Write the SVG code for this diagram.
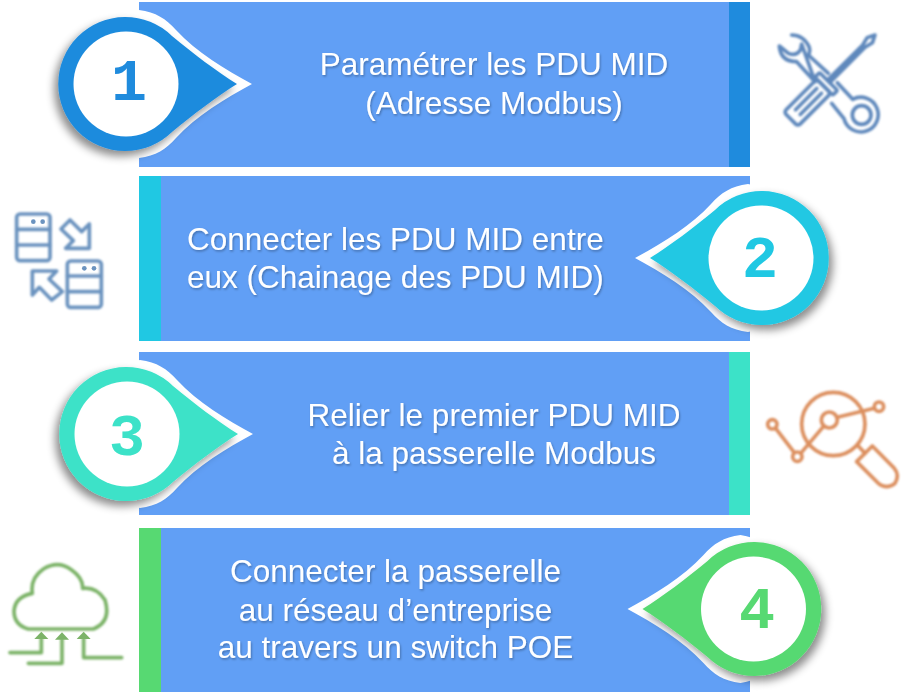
<svg xmlns="http://www.w3.org/2000/svg" width="904" height="692" viewBox="0 0 904 692">
<style>
.panel{fill:#619FF5}
.t{font-family:"Liberation Sans",Arial,sans-serif;font-size:31.5px;fill:#fff;filter:url(#ts)}
.m{text-anchor:middle}
.n{font-family:"Liberation Mono","DejaVu Sans Mono",monospace;font-weight:700;font-size:60px;text-anchor:middle}
.halo{fill:#fff}
.ic{fill:none;stroke-width:11;stroke-linejoin:round;stroke-linecap:round;filter:url(#soft)}
</style>
<defs>
<filter id="ts" x="-5%" y="-20%" width="110%" height="150%"><feDropShadow dx="1" dy="1.5" stdDeviation="1" flood-color="#000" flood-opacity=".3"/></filter>
<filter id="sh" x="-25%" y="-25%" width="150%" height="150%"><feDropShadow dx="-4" dy="5" stdDeviation="4.5" flood-color="#000" flood-opacity=".45"/></filter>
<filter id="soft" x="-5%" y="-5%" width="110%" height="110%"><feGaussianBlur stdDeviation="2.4"/></filter>
<path id="haloShape" d="M13,-74C30,-72 40,-65 50,-54C70,-32 100,-14 126,0C100,14 70,32 50,54C40,65 30,72 13,74A75,75 0 0 1 13,-74Z"/>
<path id="pinShape" d="M46,-48C68,-30 90,-13 111,0C90,13 68,30 46,48A67,67 0 1 1 46,-48Z"/>
</defs>
<rect width="904" height="692" fill="#fff"/>

<g id="step1">
<rect class="panel" x="139" y="2" width="611" height="165"/>
<rect x="729" y="2" width="21" height="165" fill="#1F8BDD"/>
<g transform="translate(126,84)">
<use href="#haloShape" class="halo"/>
<use href="#pinShape" fill="#1F8BDD" filter="url(#sh)"/>
<circle r="52.5" fill="#fff"/>
</g>
<text class="n" x="129" y="100" fill="#1F8BDD">1</text>
<text class="t m" x="494" y="75">Paramétrer les PDU MID</text>
<text class="t m" x="494" y="114">(Adresse Modbus)</text>
</g>

<g id="step2">
<rect class="panel" x="139" y="176" width="611" height="165"/>
<rect x="139" y="176" width="22" height="165" fill="#20C8E3"/>
<g transform="translate(761,258) scale(-1,1)">
<use href="#haloShape" class="halo"/>
<use href="#pinShape" fill="#20C8E3" filter="url(#sh)"/>
<circle r="52.5" fill="#fff"/>
</g>
<text class="n" x="760" y="277" fill="#20C8E3">2</text>
<text class="t" x="187" y="250">Connecter les PDU MID entre</text>
<text class="t" x="187" y="288">eux (Chainage des PDU MID)</text>
</g>

<g id="step3">
<rect class="panel" x="139" y="352" width="611" height="163"/>
<rect x="729" y="352" width="21" height="163" fill="#3CE2C8"/>
<g transform="translate(127,434)">
<use href="#haloShape" class="halo"/>
<use href="#pinShape" fill="#3CE2C8" filter="url(#sh)"/>
<circle r="52.5" fill="#fff"/>
</g>
<text class="n" x="127" y="455" fill="#3CE2C8">3</text>
<text class="t m" x="494" y="426">Relier le premier PDU MID</text>
<text class="t m" x="494" y="464">à la passerelle Modbus</text>
</g>

<g id="step4">
<rect class="panel" x="139" y="528" width="611" height="164"/>
<rect x="139" y="528" width="22" height="164" fill="#57D972"/>
<g transform="translate(753.5,609) scale(-1,1)">
<use href="#haloShape" class="halo"/>
<use href="#pinShape" fill="#57D972" filter="url(#sh)"/>
<circle r="52.5" fill="#fff"/>
</g>
<text class="n" x="757" y="628" fill="#57D972">4</text>
<text class="t m" x="395.5" y="582">Connecter la passerelle</text>
<text class="t m" x="395.5" y="621">au réseau d’entreprise</text>
<text class="t m" x="395.5" y="658">au travers un switch POE</text>
</g>

<g id="icon-tools" transform="translate(760,20) scale(.3333)">
<g class="ic" stroke="#5E88BC">
<path d="M95,45Q130,45 147,80Q152,95 145,105L205,160M232,188L278,238A52,52 0 1 1 252,296L215,250M165,185L110,125Q62,125 58,78L85,100Q110,110 122,88L125,72Z"/>
<circle cx="305" cy="285" r="28"/>
<g transform="translate(195,195) rotate(-45)">
<rect x="-145" y="-30" width="140" height="60" rx="10"/>
<rect x="-5" y="-38" width="20" height="76" rx="5"/>
<path d="M15,-5L165,-5L190,-11L212,0L190,11L165,5L15,5"/>
<path d="M-115,-10H-25M-115,10H-25"/>
</g>
</g>
</g>

<g id="icon-servers" transform="translate(0,200) scale(.3333)">
<g class="ic" stroke="#6B93BF">
<rect x="50" y="42" width="100" height="140" rx="10"/>
<path d="M50,88H150M50,135H150"/>
<rect x="202" y="183" width="102" height="139" rx="10"/>
<path d="M202,228H304M202,275H304"/>
<path d="M210,60L245,95L268,72V145H197L220,122L183,87Z"/>
<path d="M97,213H170L147,237L187,275L155,300L118,262L97,285Z"/>
</g>
<g fill="#6B93BF"><circle cx="100" cy="65" r="7"/><circle cx="128" cy="65" r="7"/><circle cx="253" cy="205" r="7"/><circle cx="282" cy="205" r="7"/></g>
</g>

<g id="icon-search" transform="translate(755,385) scale(.3333)">
<g class="ic" stroke="#DC8F5E">
<circle cx="235" cy="117" r="95"/>
<circle cx="223" cy="105" r="24"/>
<circle cx="52" cy="118" r="14"/>
<circle cx="127" cy="215" r="14"/>
<circle cx="372" cy="65" r="14"/>
<path d="M62,130L118,203M137,205L205,125M247,97L358,70M310,183L330,205"/>
<path d="M352,183L305,230L370,295Q395,315 420,295Q435,270 418,250Z"/>
</g>
</g>

<g id="icon-cloud" transform="translate(0,555) scale(.3333)">
<g class="ic" stroke="#7CB368">
<path d="M85,222Q42,210 42,168Q45,125 97,115Q90,70 130,42Q175,15 215,45Q250,70 248,100Q290,95 315,135Q335,200 280,222Z"/>
<path d="M124,250V293H30M186,252V325H85M251,250V308H365"/>
</g>
<g fill="#7CB368"><path d="M103,252H145L124,230Z"/><path d="M165,254H207L186,232Z"/><path d="M230,252H272L251,230Z"/></g>
</g>
</svg>
